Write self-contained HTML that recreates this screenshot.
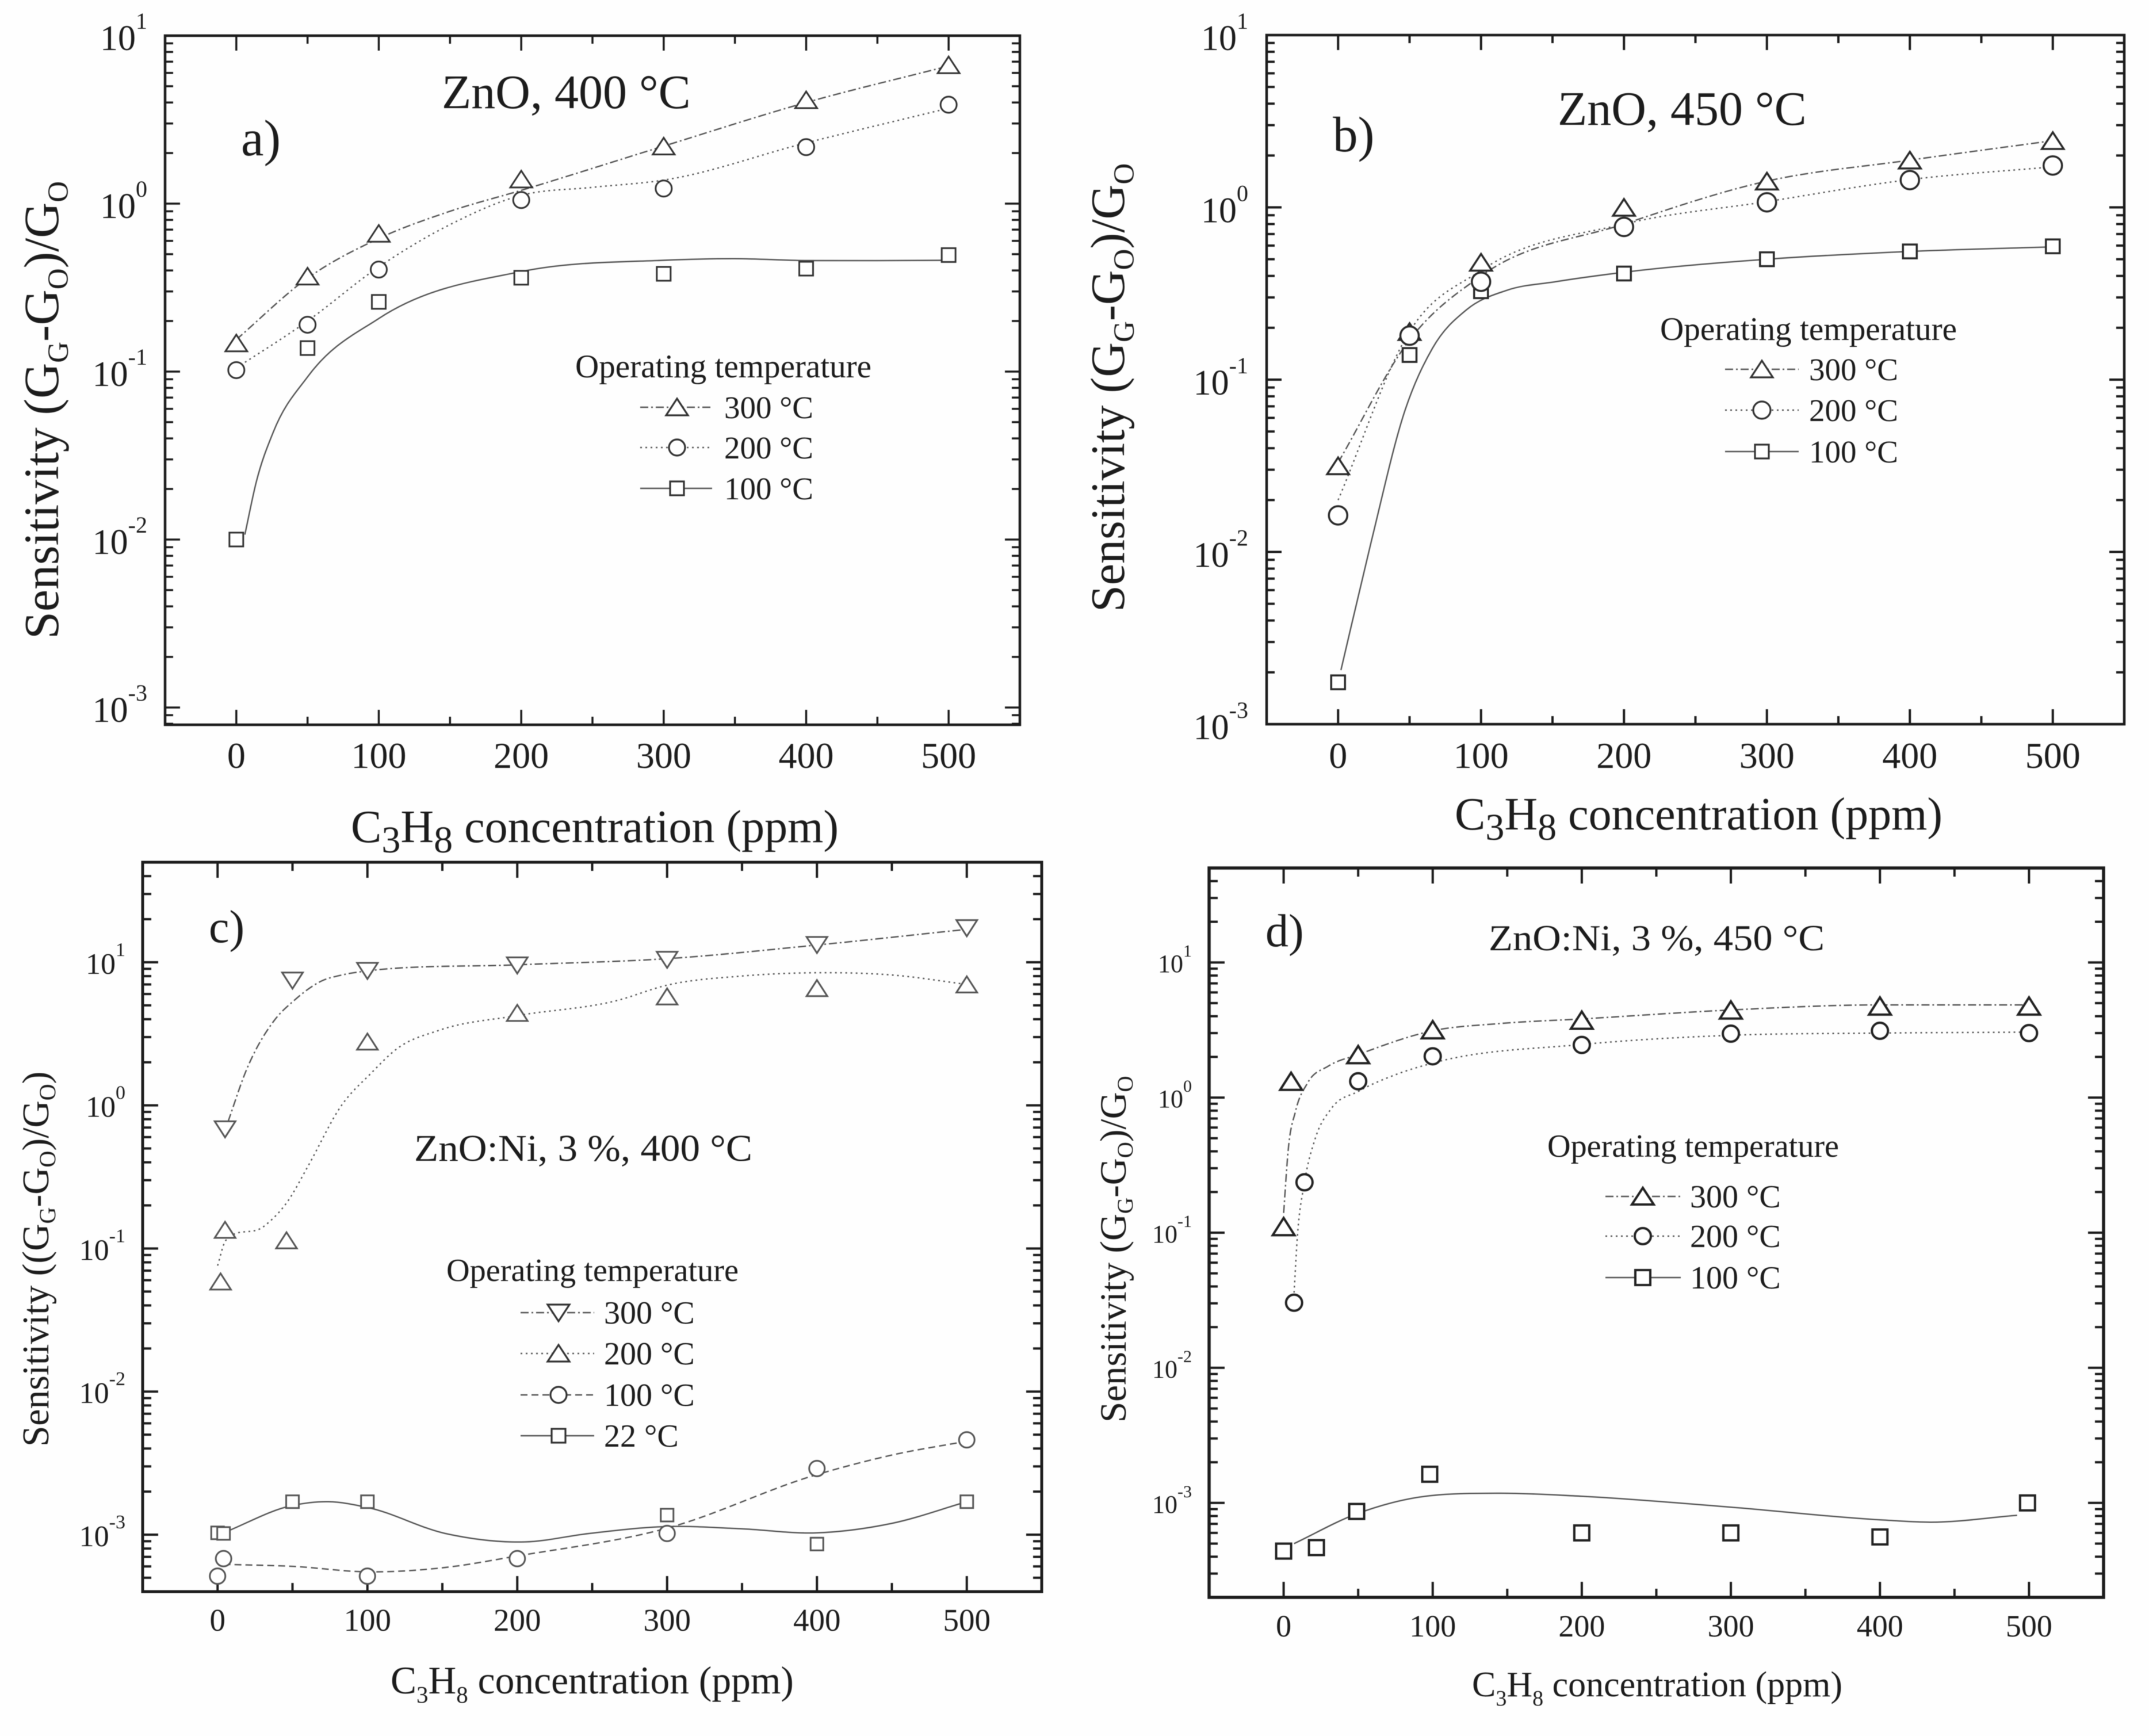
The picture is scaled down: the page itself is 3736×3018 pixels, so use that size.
<!DOCTYPE html>
<html lang="en">
<head>
<meta charset="utf-8">
<title>Sensitivity vs C3H8 concentration</title>
<style>
html,body{margin:0;padding:0;background:#fefefe;}
svg{display:block;filter:blur(.6px);}
text{font-family:"Liberation Serif",serif;fill:#1c1c1c;}
.lg{fill:none;stroke:#555;stroke-width:2.4;}
.mk{fill:#fff;stroke:#333;stroke-width:3.2;}
</style>
</head>
<body>
<svg id="figure" xmlns="http://www.w3.org/2000/svg" width="3736" height="3018" viewBox="0 0 3736 3018">
<rect width="3736" height="3018" fill="#fefefe"/>

<g id="panel-a">
 <text x="768" y="188" font-size="84">ZnO, 400 °C</text>
 <text x="419" y="270" font-size="89">a)</text>
 <text transform="translate(101,1111) rotate(-90)" font-size="86">Sensitivity (G<tspan dy="17" font-size="51">G</tspan><tspan dy="-17">-G</tspan><tspan dy="17" font-size="51">O</tspan><tspan dy="-17">)/G</tspan><tspan dy="17" font-size="51">O</tspan></text>
 <text x="610" y="1464" font-size="80">C<tspan dy="18" font-size="66">3</tspan><tspan dy="-18">H</tspan><tspan dy="18" font-size="66">8</tspan><tspan dy="-18"> concentration (ppm)</tspan></text>
 <g>
  <text x="1000" y="656" font-size="57" textLength="515" lengthAdjust="spacingAndGlyphs">Operating temperature</text>
  <g><path class="lg" stroke-dasharray="14 5 3 5" d="M1113 708H1238"/><path class="mk" d="M1177 693L1196 722H1158Z"/><text x="1259" y="727" font-size="55">300 °C</text></g>
  <g><path class="lg" stroke-dasharray="3 6" d="M1113 778H1238"/><circle class="mk" cx="1177" cy="778" r="14"/><text x="1259" y="797" font-size="55">200 °C</text></g>
  <g><path class="lg" d="M1113 849H1238"/><rect class="mk" x="1165" y="837" width="24" height="24"/><text x="1259" y="868" font-size="55">100 °C</text></g>
 </g>
</g>

<g id="panel-b">
 <text x="2708" y="217" font-size="84">ZnO, 450 °C</text>
 <text x="2317" y="263" font-size="87">b)</text>
 <text transform="translate(1954,1064) rotate(-90)" font-size="84">Sensitivity (G<tspan dy="17" font-size="51">G</tspan><tspan dy="-17">-G</tspan><tspan dy="17" font-size="51">O</tspan><tspan dy="-17">)/G</tspan><tspan dy="17" font-size="51">O</tspan></text>
 <text x="2529" y="1442" font-size="80">C<tspan dy="18" font-size="66">3</tspan><tspan dy="-18">H</tspan><tspan dy="18" font-size="66">8</tspan><tspan dy="-18"> concentration (ppm)</tspan></text>
 <g>
  <text x="2886" y="591" font-size="57" textLength="516" lengthAdjust="spacingAndGlyphs">Operating temperature</text>
  <g><path class="lg" stroke-dasharray="14 5 3 5" d="M2999 642H3127"/><path class="mk" d="M3063 627L3082 656H3044Z"/><text x="3145" y="661" font-size="55">300 °C</text></g>
  <g><path class="lg" stroke-dasharray="3 6" d="M2999 713H3127"/><circle class="mk" cx="3063" cy="713" r="15"/><text x="3145" y="732" font-size="55">200 °C</text></g>
  <g><path class="lg" d="M2999 785H3127"/><rect class="mk" x="3051" y="773" width="24" height="24"/><text x="3145" y="804" font-size="55">100 °C</text></g>
 </g>
</g>

<g id="panel-c">
 <text x="720" y="2018" font-size="66" textLength="588" lengthAdjust="spacingAndGlyphs">ZnO:Ni, 3 %, 400 °C</text>
 <text x="363" y="1638" font-size="80">c)</text>
 <text transform="translate(84,2515) rotate(-90)" font-size="65.5">Sensitivity ((G<tspan dy="12" font-size="40">G</tspan><tspan dy="-12">-G</tspan><tspan dy="12" font-size="40">O</tspan><tspan dy="-12">)/G</tspan><tspan dy="12" font-size="40">O</tspan><tspan dy="-12">)</tspan></text>
 <text x="679" y="2944" font-size="67.5">C<tspan dy="16" font-size="41">3</tspan><tspan dy="-16">H</tspan><tspan dy="16" font-size="41">8</tspan><tspan dy="-16"> concentration (ppm)</tspan></text>
 <g>
  <text x="776" y="2227" font-size="56" textLength="508" lengthAdjust="spacingAndGlyphs">Operating temperature</text>
  <g><path class="lg" stroke-dasharray="14 5 3 5" d="M905 2282H1033"/><path class="mk" d="M952 2268H990L971 2297Z"/><text x="1050" y="2301" font-size="56">300 °C</text></g>
  <g><path class="lg" stroke-dasharray="3 6" d="M905 2353H1033"/><path class="mk" d="M971 2338L990 2367H952Z"/><text x="1050" y="2372" font-size="56">200 °C</text></g>
  <g><path class="lg" stroke-dasharray="12 7" d="M905 2425H1033"/><circle class="mk" cx="971" cy="2425" r="14"/><text x="1050" y="2444" font-size="56">100 °C</text></g>
  <g><path class="lg" d="M905 2496H1033"/><rect class="mk" x="959" y="2484" width="24" height="24"/><text x="1050" y="2515" font-size="56">22 °C</text></g>
 </g>
</g>

<g id="panel-d">
 <text x="2588" y="1652" font-size="63" textLength="584" lengthAdjust="spacingAndGlyphs">ZnO:Ni, 3 %, 450 °C</text>
 <text x="2200" y="1645" font-size="80">d)</text>
 <text transform="translate(1957,2473) rotate(-90)" font-size="65">Sensitivity (G<tspan dy="12" font-size="39">G</tspan><tspan dy="-12">-G</tspan><tspan dy="12" font-size="39">O</tspan><tspan dy="-12">)/G</tspan><tspan dy="12" font-size="39">O</tspan></text>
 <text x="2559" y="2949" font-size="62">C<tspan dy="16" font-size="38">3</tspan><tspan dy="-16">H</tspan><tspan dy="16" font-size="38">8</tspan><tspan dy="-16"> concentration (ppm)</tspan></text>
 <g>
  <text x="2690" y="2011" font-size="56" textLength="507" lengthAdjust="spacingAndGlyphs">Operating temperature</text>
  <g><path class="lg" stroke-dasharray="14 5 3 5" d="M2791 2080H2922"/><path class="mk" style="stroke:#222;stroke-width:4" d="M2856 2065L2875 2094H2837Z"/><text x="2938" y="2099" font-size="56">300 °C</text></g>
  <g><path class="lg" stroke-dasharray="3 6" d="M2791 2149H2922"/><circle class="mk" style="stroke:#222;stroke-width:4" cx="2856" cy="2149" r="14"/><text x="2938" y="2168" font-size="56">200 °C</text></g>
  <g><path class="lg" d="M2791 2221H2922"/><rect class="mk" style="stroke:#222;stroke-width:4" x="2843" y="2208" width="26" height="26"/><text x="2938" y="2240" font-size="56">100 °C</text></g>
 </g>
</g>
</svg>

<script>
/* ---------- shared tick values ---------- */
const xMajorTicks = [0, 100, 200, 300, 400, 500];
const xMinorTicks = [50, 150, 250, 350, 450];
const decadeExponents = [1, 0, -1, -2, -3];
const minorMultipliers = [2, 3, 4, 5, 6, 7, 8, 9];

/* ---------- panel a: measured points ---------- */
const aPpm = [0, 50, 100, 200, 300, 400, 500];
const aPts300 = [0.148, 0.37, 0.665, 1.4, 2.2, 4.15, 6.7];
const aPts200 = [0.102, 0.19, 0.405, 1.05, 1.23, 2.17, 3.88];
const aPts100 = [0.01, 0.138, 0.26, 0.362, 0.382, 0.41, 0.494];
/* panel a: fitted curves */
const aFitPpm300 = [0, 50, 100, 150, 200, 300, 400, 500];
const aFitVal300 = [0.155, 0.36, 0.62, 0.9, 1.2, 2.2, 4.0, 6.6];
const aFitPpm200 = [0, 50, 100, 150, 200, 250, 300, 400, 500];
const aFitVal200 = [0.105, 0.2, 0.42, 0.75, 1.12, 1.25, 1.38, 2.3, 3.7];
const aFitPpm100 = [6, 14, 26, 50, 100, 200, 300, 350, 400, 500];
const aFitVal100 = [0.0107, 0.022, 0.0437, 0.093, 0.207, 0.394, 0.46, 0.47, 0.458, 0.46];

/* ---------- panel b ---------- */
const bPpm = [0, 50, 100, 200, 300, 400, 500];
const bPts300 = [0.0316, 0.19, 0.48, 1.0, 1.42, 1.88, 2.44];
const bPts200 = [0.0163, 0.18, 0.37, 0.77, 1.07, 1.44, 1.75];
const bPts100 = [0.00175, 0.139, 0.326, 0.413, 0.5, 0.555, 0.594];
const bFitPpm300 = [0, 50, 100, 200, 300, 400, 500];
const bFitVal300 = [0.033, 0.17, 0.4, 0.8, 1.42, 1.88, 2.44];
const bFitPpm200 = [0, 50, 100, 200, 300, 400, 500];
const bFitVal200 = [0.02, 0.19, 0.43, 0.8, 1.08, 1.45, 1.72];
const bFitPpm100 = [2, 23, 47, 66, 90, 118, 152, 200, 300, 400, 500];
const bFitVal100 = [0.00206, 0.0113, 0.067, 0.152, 0.255, 0.33, 0.37, 0.42, 0.5, 0.555, 0.59];

/* ---------- panel c ---------- */
const cPpm300 = [5, 50, 100, 200, 300, 400, 500];
const cPts300 = [0.68, 7.45, 8.7, 9.5, 10.4, 13.2, 17.3];
const cPpm200 = [2, 5, 46, 100, 200, 300, 400, 500];
const cPts200 = [0.0588, 0.135, 0.114, 2.79, 4.43, 5.77, 6.6, 7.0];
const cPpm100 = [0, 4, 100, 200, 300, 400, 500];
const cPts100 = [0.000513, 0.00068, 0.000513, 0.00068, 0.00102, 0.0029, 0.0046];
const cPpm22 = [0, 4, 50, 100, 300, 400, 500];
const cPts22 = [0.00103, 0.00102, 0.0017, 0.0017, 0.00137, 0.00086, 0.0017];
const cFitPpm300 = [7, 19, 38, 51, 70, 83, 100, 200, 300, 400, 500];
const cFitVal300 = [0.77, 1.74, 3.94, 5.4, 7.45, 8.15, 8.7, 9.6, 10.6, 13.2, 17];
const cFitPpm200 = [0, 5.5, 31, 47, 60, 83, 102, 120, 148, 200, 267, 300, 349, 400, 450, 500];
const cFitVal200 = [0.0759, 0.114, 0.143, 0.215, 0.37, 1.01, 1.66, 2.5, 3.35, 4.24, 5.42, 6.92, 8.0, 8.45, 8.15, 7.0];
const cFitPpm100 = [4, 51, 100, 152, 200, 300, 400, 450, 500];
const cFitVal100 = [0.00062, 0.0006, 0.00055, 0.00059, 0.00071, 0.00111, 0.00263, 0.0036, 0.0045];
const cFitPpm22 = [4, 50, 74, 100, 152, 205, 248, 300, 349, 400, 450, 500];
const cFitVal22 = [0.00103, 0.0016, 0.0017, 0.00155, 0.00102, 0.00089, 0.00102, 0.00114, 0.0011, 0.00103, 0.0012, 0.0017];

/* ---------- panel d ---------- */
const dPpm300 = [0, 5, 50, 100, 200, 300, 400, 500];
const dPts300 = [0.111, 1.32, 2.08, 3.18, 3.74, 4.45, 4.76, 4.76];
const dPpm200 = [7, 14, 50, 100, 200, 300, 400, 500];
const dPts200 = [0.0303, 0.236, 1.32, 2.02, 2.45, 2.97, 3.12, 3.0];
const dPpm100 = [0, 22, 49, 98, 200, 300, 400, 499];
const dPts100 = [0.00044, 0.000467, 0.000865, 0.00163, 0.0006, 0.0006, 0.00056, 0.001];
const dFitPpm300 = [0, 3, 8, 16, 30, 50, 100, 145, 200, 300, 400, 500];
const dFitVal300 = [0.14, 0.404, 0.794, 1.28, 1.71, 2.08, 3.12, 3.53, 3.82, 4.45, 4.85, 4.85];
const dFitPpm200 = [7, 9, 14, 21, 32, 50, 76, 100, 200, 300, 400, 500];
const dFitVal200 = [0.036, 0.0865, 0.236, 0.49, 0.83, 1.11, 1.49, 1.8, 2.47, 2.89, 3.0, 3.05];
const dFitPpm100 = [7, 49, 98, 145, 200, 300, 400, 434, 492];
const dFitVal100 = [0.0005, 0.00083, 0.00113, 0.00118, 0.00112, 0.00093, 0.00075, 0.00072, 0.00081];

/* ---------- dash styles ---------- */
const DASHDOT = '14 5 3 5', DOTTED = '3 6', DASHED = '12 7', SOLID = 'none';
const SVGNS = 'http://www.w3.org/2000/svg';

function fitPath(xs, ys) {
  const n = xs.length, slopes = [], m = new Array(n);
  for (let i = 0; i < n - 1; i++) slopes.push((ys[i + 1] - ys[i]) / (xs[i + 1] - xs[i]));
  m[0] = slopes[0]; m[n - 1] = slopes[n - 2];
  for (let i = 1; i < n - 1; i++) {
    const h0 = xs[i] - xs[i - 1], h1 = xs[i + 1] - xs[i];
    const parabolic = (slopes[i - 1] * h1 + slopes[i] * h0) / (h0 + h1);
    const limit = 3 * Math.min(Math.abs(slopes[i - 1]), Math.abs(slopes[i]));
    m[i] = Math.sign(parabolic) * Math.min(Math.abs(parabolic), limit);
  }
  let d = 'M' + xs[0].toFixed(1) + ' ' + ys[0].toFixed(1);
  for (let i = 0; i < n - 1; i++) {
    const h = (xs[i + 1] - xs[i]) / 3;
    d += 'C' + (xs[i] + h).toFixed(1) + ' ' + (ys[i] + m[i] * h).toFixed(1) + ' ' +
         (xs[i + 1] - h).toFixed(1) + ' ' + (ys[i + 1] - m[i + 1] * h).toFixed(1) + ' ' +
         xs[i + 1].toFixed(1) + ' ' + ys[i + 1].toFixed(1);
  }
  return d;
}

function make(tag, parent) {
  const el = document.createElementNS(SVGNS, tag);
  parent.appendChild(el);
  return el;
}

function drawMarker(parent, kind, cx, cy, st) {
  let el;
  if (kind === 'circle') {
    el = make('circle', parent);
    el.setAttribute('cx', cx); el.setAttribute('cy', cy); el.setAttribute('r', st.circle / 2);
  } else if (kind === 'square') {
    el = make('rect', parent);
    el.setAttribute('x', cx - st.square / 2); el.setAttribute('y', cy - st.square / 2);
    el.setAttribute('width', st.square); el.setAttribute('height', st.square);
  } else {
    const w = st.triW / 2, h = st.triH / 2, s = kind === 'up' ? 1 : -1;
    el = make('path', parent);
    el.setAttribute('d', 'M' + cx + ' ' + (cy - s * h) + 'L' + (cx + w) + ' ' + (cy + s * h) + 'H' + (cx - w) + 'Z');
  }
  el.setAttribute('fill', '#fff');
  el.setAttribute('stroke', st.color);
  el.setAttribute('stroke-width', st.sw);
  
  
}

function drawPanel(p) {
  const root = document.getElementById(p.id);
  const g = make('g', root);
  
  
  const f = p.frame;
  const X = v => f.l + (v + 50) / 600 * (f.r - f.l);
  const lmax = Math.log10(p.yMax), lmin = Math.log10(p.yMin);
  const Y = v => f.t + (lmax - Math.log10(v)) / (lmax - lmin) * (f.b - f.t);

  function tick(x1, y1, x2, y2, name) {
    const t = make('line', g);
    t.setAttribute('x1', x1); t.setAttribute('y1', y1); t.setAttribute('x2', x2); t.setAttribute('y2', y2);
    t.setAttribute('stroke', '#1c1c1c'); t.setAttribute('stroke-width', p.tickW);
    
    
  }

  xMajorTicks.forEach(v => {
    tick(X(v), f.b, X(v), f.b - p.major, 'x-major-tick');
    tick(X(v), f.t, X(v), f.t + p.major, 'x-major-tick-top');
    const lab = make('text', g);
    lab.setAttribute('x', X(v)); lab.setAttribute('y', p.xLabelY);
    lab.setAttribute('font-size', p.tickFont); lab.setAttribute('text-anchor', 'middle');
    
    
    lab.textContent = String(v);
  });
  xMinorTicks.forEach(v => {
    tick(X(v), f.b, X(v), f.b - p.minor, 'x-minor-tick');
    tick(X(v), f.t, X(v), f.t + p.minor, 'x-minor-tick-top');
  });

  decadeExponents.forEach(e => {
    const base = Math.pow(10, e), y = Y(base);
    tick(f.l, y, f.l + p.major, y, 'y-major-tick');
    tick(f.r, y, f.r - p.major, y, 'y-major-tick-right');
    const lab = make('text', g);
    lab.setAttribute('x', p.yLabelRight); lab.setAttribute('y', y + p.labDown);
    lab.setAttribute('font-size', p.labFont); lab.setAttribute('text-anchor', 'end');
    
    
    const t0 = make('tspan', lab); t0.textContent = '10';
    const t1 = make('tspan', lab);
    t1.setAttribute('font-size', p.supFont); t1.setAttribute('dy', -p.supUp);
    t1.textContent = String(e);
  });
  [-4, -3, -2, -1, 0, 1].forEach(e => minorMultipliers.forEach(mult => {
    const v = mult * Math.pow(10, e);
    if (v > p.yMin && v < p.yMax) {
      tick(f.l, Y(v), f.l + p.minor, Y(v), 'y-minor-tick');
      tick(f.r, Y(v), f.r - p.minor, Y(v), 'y-minor-tick-right');
    }
  }));

  p.series.forEach(s => {
    const c = make('path', g);
    c.setAttribute('d', fitPath(s.fitX.map(X), s.fitY.map(Y)));
    c.setAttribute('fill', 'none');
    c.setAttribute('stroke', '#555');
    c.setAttribute('stroke-width', '2.4');
    c.setAttribute('stroke-dasharray', s.dash);
    
    
  });
  p.series.forEach(s => s.ptsX.forEach((x, i) => drawMarker(g, s.kind, X(x), Y(s.ptsY[i]), p.marker)));

  const fr = make('rect', g);
  fr.setAttribute('x', f.l); fr.setAttribute('y', f.t);
  fr.setAttribute('width', f.r - f.l); fr.setAttribute('height', f.b - f.t);
  fr.setAttribute('fill', 'none'); fr.setAttribute('stroke', '#1c1c1c'); fr.setAttribute('stroke-width', p.frameW);
  
  
}

drawPanel({
  id: 'panel-a', frame: { l: 287, r: 1773, t: 62, b: 1260 }, yMin: 7.89e-4, yMax: 10,
  major: 26, minor: 14, tickW: 3.5, frameW: 4.5, tickFont: 64, xLabelY: 1335,
  yLabelRight: 256, labFont: 62, supFont: 40, labDown: 25, supUp: 37,
  marker: { triW: 38, triH: 29, circle: 28, square: 24, color: '#333', sw: 3 },
  series: [
    { label: '100', kind: 'square', dash: SOLID, ptsX: aPpm, ptsY: aPts100, fitX: aFitPpm100, fitY: aFitVal100 },
    { label: '300', kind: 'up', dash: DASHDOT, ptsX: aPpm, ptsY: aPts300, fitX: aFitPpm300, fitY: aFitVal300 },
    { label: '200', kind: 'circle', dash: DOTTED, ptsX: aPpm, ptsY: aPts200, fitX: aFitPpm200, fitY: aFitVal200 }
  ]
});
drawPanel({
  id: 'panel-b', frame: { l: 2202, r: 3693, t: 61, b: 1259 }, yMin: 1e-3, yMax: 10,
  major: 26, minor: 14, tickW: 4, frameW: 4.5, tickFont: 64, xLabelY: 1335,
  yLabelRight: 2170, labFont: 62, supFont: 40, labDown: 26, supUp: 37,
  marker: { triW: 38, triH: 29, circle: 32, square: 24, color: '#2a2a2a', sw: 3.5 },
  series: [
    { label: '100', kind: 'square', dash: SOLID, ptsX: bPpm, ptsY: bPts100, fitX: bFitPpm100, fitY: bFitVal100 },
    { label: '300', kind: 'up', dash: DASHDOT, ptsX: bPpm, ptsY: bPts300, fitX: bFitPpm300, fitY: bFitVal300 },
    { label: '200', kind: 'circle', dash: DOTTED, ptsX: bPpm, ptsY: bPts200, fitX: bFitPpm200, fitY: bFitVal200 }
  ]
});
drawPanel({
  id: 'panel-c', frame: { l: 248, r: 1811, t: 1499, b: 2767 }, yMin: 4e-4, yMax: 50,
  major: 27, minor: 15, tickW: 4, frameW: 5, tickFont: 55, xLabelY: 2835,
  yLabelRight: 218, labFont: 52, supFont: 34, labDown: 20, supUp: 31,
  marker: { triW: 36, triH: 28, circle: 27, square: 22, color: '#555', sw: 3 },
  series: [
    { label: '300', kind: 'down', dash: DASHDOT, ptsX: cPpm300, ptsY: cPts300, fitX: cFitPpm300, fitY: cFitVal300 },
    { label: '200', kind: 'up', dash: DOTTED, ptsX: cPpm200, ptsY: cPts200, fitX: cFitPpm200, fitY: cFitVal200 },
    { label: '100', kind: 'circle', dash: DASHED, ptsX: cPpm100, ptsY: cPts100, fitX: cFitPpm100, fitY: cFitVal100 },
    { label: '22', kind: 'square', dash: SOLID, ptsX: cPpm22, ptsY: cPts22, fitX: cFitPpm22, fitY: cFitVal22 }
  ]
});
drawPanel({
  id: 'panel-d', frame: { l: 2102, r: 3657, t: 1509, b: 2777 }, yMin: 2e-4, yMax: 50,
  major: 27, minor: 15, tickW: 4, frameW: 5.5, tickFont: 54, xLabelY: 2845,
  yLabelRight: 2072, labFont: 44, supFont: 30, labDown: 17, supUp: 27,
  marker: { triW: 38, triH: 30, circle: 28, square: 26, color: '#222', sw: 4 },
  series: [
    { label: '300', kind: 'up', dash: DASHDOT, ptsX: dPpm300, ptsY: dPts300, fitX: dFitPpm300, fitY: dFitVal300 },
    { label: '200', kind: 'circle', dash: DOTTED, ptsX: dPpm200, ptsY: dPts200, fitX: dFitPpm200, fitY: dFitVal200 },
    { label: '100', kind: 'square', dash: SOLID, ptsX: dPpm100, ptsY: dPts100, fitX: dFitPpm100, fitY: dFitVal100 }
  ]
});
</script>
</body>
</html>
